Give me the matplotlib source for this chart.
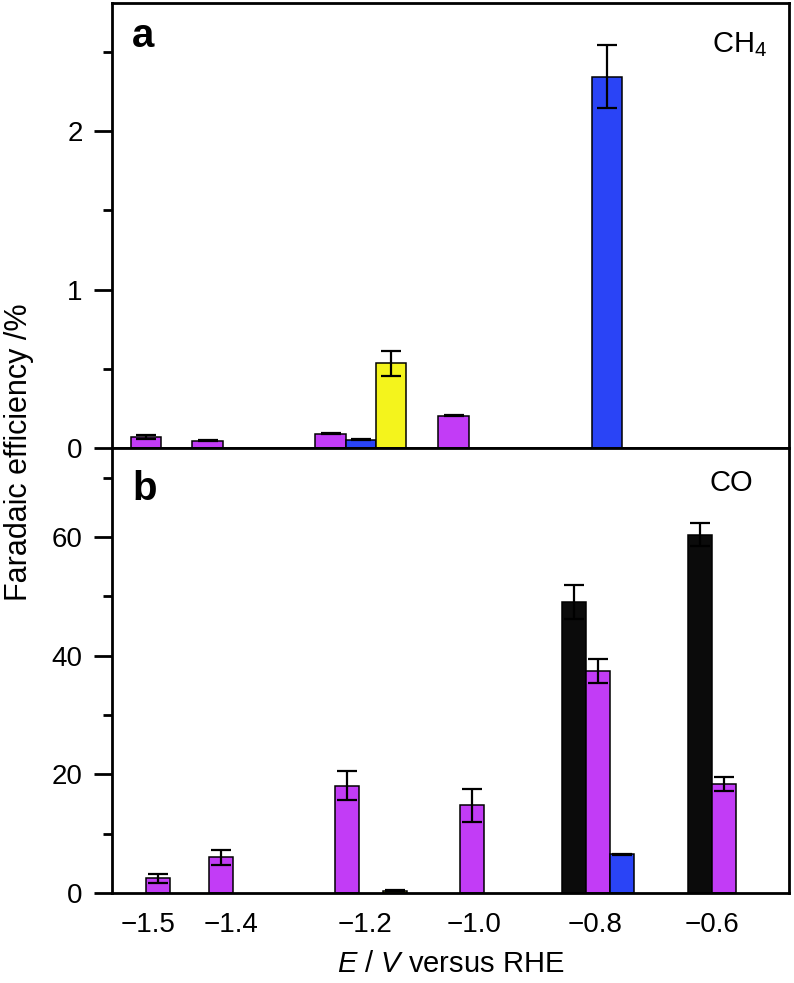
import numpy as np
import matplotlib.pyplot as plt
from matplotlib.ticker import MultipleLocator

plt.rcParams['font.family'] = ['Liberation Sans', 'DejaVu Sans']
plt.rcParams['mathtext.fontset'] = 'custom'
plt.rcParams['mathtext.rm'] = 'Liberation Sans'
plt.rcParams['mathtext.it'] = 'Liberation Sans:italic'

# potentials (V vs RHE)
potentials = [-1.5, -1.4, -1.2, -1.0, -0.8, -0.6]
tick_labels = ['\u22121.5', '\u22121.4', '\u22121.2', '\u22121.0', '\u22120.8', '\u22120.6']
nan = np.nan

# panel a: CH4 faradaic efficiency (%)
ch4_magenta = [0.068, 0.046, 0.090, 0.204, nan, nan]
ch4_magenta_err = [0.013, 0.004, 0.004, 0.005, nan, nan]
ch4_blue = [nan, nan, 0.052, nan, 2.345, nan]
ch4_blue_err = [nan, nan, 0.004, nan, 0.20, nan]
ch4_yellow = [nan, nan, 0.534, nan, nan, nan]
ch4_yellow_err = [nan, nan, 0.08, nan, nan, nan]

# panel b: CO faradaic efficiency (%)
co_black = [nan, nan, nan, nan, 49.0, 60.4]
co_black_err = [nan, nan, nan, nan, 2.9, 1.9]
co_magenta = [2.5, 6.0, 18.1, 14.75, 37.4, 18.4]
co_magenta_err = [0.75, 1.3, 2.4, 2.8, 2.0, 1.2]
co_blue = [nan, nan, nan, nan, 6.5, nan]
co_blue_err = [nan, nan, nan, nan, 0.1, nan]
co_yellow = [nan, nan, 0.4, nan, nan, nan]
co_yellow_err = [nan, nan, 0.05, nan, nan, nan]

colors = {'black': '#0b0b0b', 'magenta': '#c23cf6', 'blue': '#2a44f6', 'yellow': '#f4f41c'}
offsets = {'black': -1, 'magenta': 0, 'blue': 1, 'yellow': 2}


def draw_bars(ax, vals, errs, name, width):
    x = np.array(potentials) + offsets[name] * width
    v = np.array(vals, dtype=float)
    e = np.array(errs, dtype=float)
    ok = np.isfinite(v)
    ax.bar(x[ok], v[ok], width=width, color=colors[name], edgecolor='black',
           linewidth=1.1, zorder=2)
    ax.errorbar(x[ok], v[ok], yerr=e[ok], fmt='none', ecolor='black',
                elinewidth=1.6, capsize=7.5, capthick=1.6, zorder=3)


fig = plt.figure(figsize=(7.94, 9.83), dpi=100)
ax_a = fig.add_axes([0.141, 0.5443, 0.8527, 0.4527])
ax_b = fig.add_axes([0.141, 0.0916, 0.8527, 0.4527])

# panel a
w_a = 0.049
draw_bars(ax_a, ch4_magenta, ch4_magenta_err, 'magenta', w_a)
draw_bars(ax_a, ch4_blue, ch4_blue_err, 'blue', w_a)
draw_bars(ax_a, ch4_yellow, ch4_yellow_err, 'yellow', w_a)
ax_a.set_xlim(-1.5554, -0.4546)
ax_a.set_ylim(0, 2.81)
ax_a.yaxis.set_major_locator(MultipleLocator(1))
ax_a.yaxis.set_minor_locator(MultipleLocator(0.5))
ax_a.set_xticks([])
ax_a.text(0.03, 0.968, 'a', transform=ax_a.transAxes, fontsize=29,
          fontweight='bold', va='top', ha='left')
ax_a.text(0.968, 0.938, r'CH$_4$', transform=ax_a.transAxes, fontsize=21,
          va='top', ha='right')

# panel b
w_b = 0.0382
draw_bars(ax_b, co_black, co_black_err, 'black', w_b)
draw_bars(ax_b, co_magenta, co_magenta_err, 'magenta', w_b)
draw_bars(ax_b, co_blue, co_blue_err, 'blue', w_b)
draw_bars(ax_b, co_yellow, co_yellow_err, 'yellow', w_b)
ax_b.set_xlim(-1.5739, -0.4959)
ax_b.set_ylim(0, 75)
ax_b.yaxis.set_major_locator(MultipleLocator(20))
ax_b.yaxis.set_minor_locator(MultipleLocator(10))
ax_b.set_xticks([-1.517, -1.384, -1.171, -0.998, -0.805, -0.619])
ax_b.set_xticklabels(tick_labels)
ax_b.tick_params(axis='x', length=0, pad=14, labelsize=20)
ax_b.text(0.03, 0.95, 'b', transform=ax_b.transAxes, fontsize=29,
          fontweight='bold', va='top', ha='left')
ax_b.text(0.947, 0.952, 'CO', transform=ax_b.transAxes, fontsize=21,
          va='top', ha='right')
ax_b.set_xlabel(r'$\it{E}$ / $\it{V}$ versus RHE', fontsize=21, labelpad=8)

for ax in (ax_a, ax_b):
    for s in ax.spines.values():
        s.set_linewidth(2)
    ax.tick_params(axis='y', which='major', length=13, width=2, pad=8, labelsize=20)
    ax.tick_params(axis='y', which='minor', length=6.5, width=2)

fig.text(0.024, 1 - 452 / 983, 'Faradaic efficiency /%', rotation=90,
         fontsize=22, va='center', ha='center')

fig.savefig('out.png', dpi=100)
